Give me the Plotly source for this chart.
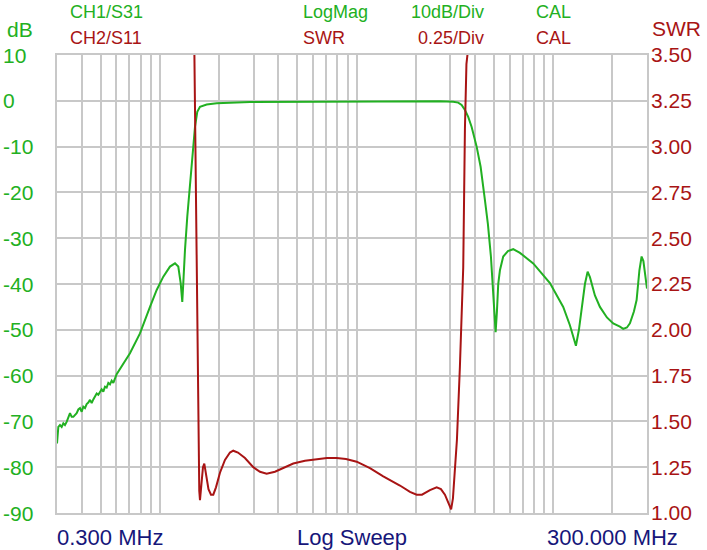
import plotly.graph_objects as go

# ---------------- data ----------------
# CH1 / S31, LogMag (dB) vs frequency (MHz)
s31_freq = [0.300, 0.3047, 0.3107, 0.3169, 0.3231, 0.3294, 0.3359, 0.3425, 0.3493, 0.3562,
            0.3632, 0.3777, 0.3851, 0.3927, 0.4005, 0.4083, 0.4164, 0.4246, 0.4329, 0.4415,
            0.4502, 0.4590, 0.4773, 0.4867, 0.4963, 0.5060, 0.5160, 0.5262, 0.5366, 0.5471,
            0.5579, 0.5689, 0.5801, 0.5915, 0.6032, 0.7049, 0.7925, 0.8913, 0.9639, 1.0414,
            1.1261, 1.1941, 1.2412, 1.2765, 1.3006, 1.3160, 1.3314, 1.3424, 1.3790, 1.4233,
            1.4691, 1.5092, 1.5503, 1.6000, 1.7307, 1.9454, 2.8729, 5.159, 9.264, 16.63,
            26.56, 31.03, 32.90, 34.24, 35.59, 36.99, 38.50, 40.82, 42.77, 44.98,
            46.59, 48.25, 49.69, 50.98, 51.77, 52.56, 53.62, 55.73, 58.88, 62.64,
            67.77, 79.18, 96.28, 112.49, 121.65, 130.53, 135.21, 139.56, 145.05, 149.71,
            153.79, 163.05, 172.88, 187.64, 201.96, 218.49, 227.08, 237.15, 245.63, 257.38,
            265.65, 274.48, 281.65, 287.63, 292.72, 300.0]
s31_db = [-74.8, -71.2, -70.8, -71.2, -70.4, -70.8, -70.1, -69.0, -68.2, -69.0,
          -69.0, -68.2, -67.4, -67.1, -67.9, -66.8, -67.1, -66.2, -65.9, -65.3,
          -66.0, -65.2, -63.9, -64.2, -63.7, -63.0, -63.5, -62.4, -62.6, -61.6,
          -61.9, -61.1, -61.6, -60.6, -59.7, -55.1, -50.8, -45.0, -41.3, -38.4,
          -36.2, -35.5, -36.2, -39.8, -43.9, -39.8, -34.8, -32.6, -25.3, -18.0,
          -10.7, -5.7, -2.4, -1.3, -0.8, -0.55, -0.26, -0.2, -0.15, -0.1,
          -0.1, -0.2, -0.4, -0.9, -2.0, -3.5, -5.7, -10.0, -14.4, -21.7,
          -27.0, -34.0, -42.0, -50.5, -46.0, -40.0, -37.0, -34.0, -32.8, -32.4,
          -33.2, -35.5, -39.8, -45.0, -49.0, -53.5, -50.0, -45.7, -40.0, -37.3,
          -38.5, -42.5, -45.0, -47.3, -48.6, -49.3, -49.8, -49.5, -48.6, -46.0,
          -43.5, -37.0, -34.0, -35.0, -38.0, -41.0]

# CH2 / S11, SWR vs frequency (MHz)
s11_freq = [1.4882, 1.5005, 1.5395, 1.5686, 1.5871, 1.6000, 1.6285, 1.6573, 1.6828, 1.7166,
            1.7675, 1.8201, 1.8698, 1.9295, 2.0219, 2.1437, 2.2729, 2.3625, 2.4961, 2.7093,
            2.9860, 3.2298, 3.4935, 3.8496, 4.3275, 4.7703, 5.4696, 6.2721, 7.077, 7.926,
            8.841, 10.020, 11.706, 13.68, 16.63, 18.70, 20.22, 21.52, 23.63, 25.56,
            26.87, 28.16, 29.51, 30.28, 30.93, 31.66, 32.41, 33.56, 34.89, 35.59,
            36.22, 37.08, 37.74]
s11_swr = [3.80, 3.45, 2.44, 1.30, 1.12, 1.07, 1.15, 1.25, 1.27, 1.22,
           1.13, 1.10, 1.10, 1.14, 1.22, 1.29, 1.33, 1.34, 1.33, 1.30,
           1.25, 1.225, 1.215, 1.225, 1.25, 1.27, 1.285, 1.295, 1.30, 1.30,
           1.295, 1.28, 1.245, 1.20, 1.15, 1.115, 1.10, 1.10, 1.125, 1.14,
           1.13, 1.10, 1.05, 1.02, 1.08, 1.25, 1.40, 1.80, 2.34, 3.10,
           3.45, 3.55, 3.70]

grid_freqs = [0.3, 0.4, 0.5, 0.6, 0.7, 0.8, 0.9, 1, 2, 3, 4, 5, 6, 7, 8, 9,
              10, 20, 30, 40, 50, 60, 70, 80, 90, 100, 200, 300]
db_ticks = [10, 0, -10, -20, -30, -40, -50, -60, -70, -80, -90]
swr_ticks = [1.00, 1.25, 1.50, 1.75, 2.00, 2.25, 2.50, 2.75, 3.00, 3.25, 3.50]

# ---------------- style ----------------
GREEN = "#22B022"
RED = "#A81414"
NAVY = "#16167A"
GRID = "#C8C8C8"
FONT = "Liberation Sans, Arial, sans-serif"

W, H = 707, 550
L, R, T, B = 57, 60, 55, 37
PW, PH = W - L - R, H - T - B


def px(x):
    return (x - L) / PW


def py(y):
    return (H - B - y) / PH


fig = go.Figure()
fig.add_trace(go.Scatter(x=s31_freq, y=s31_db, mode="lines",
                         line=dict(color=GREEN, width=2), yaxis="y", name="S31"))
fig.add_trace(go.Scatter(x=s11_freq, y=s11_swr, mode="lines",
                         line=dict(color=RED, width=2), yaxis="y2", name="S11"))

ann = []
# left dB tick labels (left aligned)
for v in db_ticks:
    ann.append(dict(x=px(1), xref="paper", y=v, yref="y", text=str(v), showarrow=False,
                    xanchor="left", yanchor="middle", font=dict(family=FONT, size=21, color=GREEN)))


def txt(x, y, s, color, size, anchor="left"):
    ann.append(dict(x=px(x), xref="paper", y=py(y), yref="paper", text=s, showarrow=False,
                    xanchor=anchor, yanchor="middle", font=dict(family=FONT, size=size, color=color)))


txt(68, 12, "CH1/S31", GREEN, 18)
txt(68, 38, "CH2/S11", RED, 18)
txt(301, 12, "LogMag", GREEN, 18)
txt(301, 38, "SWR", RED, 18)
txt(486, 12, "10dB/Div", GREEN, 18, "right")
txt(486, 38, "0.25/Div", RED, 18, "right")
txt(534, 12, "CAL", GREEN, 18)
txt(534, 38, "CAL", RED, 18)
txt(5, 30, "dB", GREEN, 21)
txt(650, 29, "SWR", RED, 21)
txt(55, 537, "0.300 MHz", NAVY, 22)
txt(352, 537, "Log Sweep", NAVY, 22, "center")
txt(680, 537, "300.000 MHz", NAVY, 22, "right")

fig.update_layout(
    width=W, height=H,
    margin=dict(l=L, r=R, t=T, b=B),
    paper_bgcolor="white", plot_bgcolor="white",
    showlegend=False,
    annotations=ann,
    xaxis=dict(type="log", range=[-0.5228787, 2.4771213], tickvals=grid_freqs,
               showticklabels=False, ticks="", showgrid=True, gridcolor=GRID, gridwidth=2,
               showline=True, linecolor=GRID, linewidth=2, mirror=True, zeroline=False),
    yaxis=dict(range=[-90, 10], tickvals=db_ticks, showticklabels=False, ticks="",
               showgrid=True, gridcolor=GRID, gridwidth=2, zeroline=False,
               showline=True, linecolor=GRID, linewidth=2, mirror=True),
    yaxis2=dict(range=[1, 3.5], tickvals=swr_ticks, tickformat=".2f", overlaying="y",
                side="right", showgrid=False, zeroline=False, ticks="",
                ticklabelstandoff=3,
                tickfont=dict(family=FONT, size=21, color=RED), showline=False),
)

fig.write_html("out.html")
